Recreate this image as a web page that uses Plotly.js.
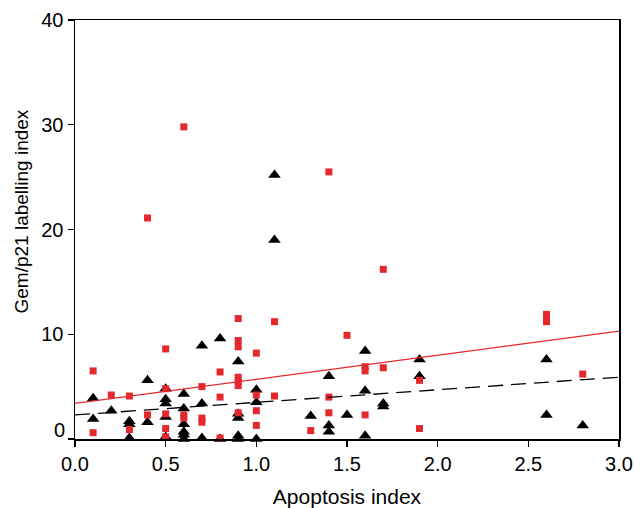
<!DOCTYPE html>
<html>
<head>
<meta charset="utf-8">
<script src="https://cdn.plot.ly/plotly-3.0.1.min.js"></script>
<style>html,body{margin:0;padding:0;background:#fff;}#chart{width:634px;height:508px;}</style>
</head>
<body>
<div id="chart"></div>
<script>
// Gem (red squares)
const gemX = [0.1,0.1,0.2,0.3,0.3,0.4,0.4,0.5,0.5,0.5,0.5,0.5,0.6,0.6,0.6,0.7,0.7,0.7,0.8,0.8,0.8,
  0.9,0.9,0.9,0.9,0.9,0.9,0.9,1.0,1.0,1.0,1.0,1.1,1.1,1.3,1.4,1.4,1.4,1.5,1.6,1.6,1.6,1.7,1.7,1.9,1.9,2.6,2.6,2.6,2.8];
const gemY = [6.5,0.6,4.2,4.1,0.9,2.3,21.1,8.6,4.8,2.4,1.0,0.2,2.3,2.0,29.8,5.0,2.0,1.6,6.4,4.0,0.1,
  11.5,9.4,8.8,5.9,5.5,5.1,2.5,8.2,4.2,2.7,1.3,11.2,4.1,0.8,25.5,4.0,2.5,9.9,6.9,6.5,2.3,6.8,16.2,5.6,1.0,11.9,11.5,11.2,6.2];
// p21 (black triangles)
const p21X = [0.1,0.1,0.2,0.3,0.3,0.3,0.4,0.4,0.5,0.5,0.5,0.5,0.5,0.6,0.6,0.6,0.6,0.6,0.6,0.7,0.7,0.7,0.8,0.8,
  0.9,0.9,0.9,0.9,0.9,1.0,1.0,1.0,1.1,1.1,1.3,1.4,1.4,1.4,1.5,1.6,1.6,1.6,1.7,1.7,1.9,1.9,2.6,2.6,2.8];
const p21Y = [3.9,1.9,2.7,1.7,1.4,0.1,5.6,1.6,4.8,3.8,3.4,2.1,0.2,4.3,2.9,1.4,0.7,0.4,0.0,8.9,3.4,0.1,9.6,0.0,
  7.4,2.4,2.0,0.3,0.0,4.7,3.5,0.0,25.2,19.0,2.2,6.0,1.3,0.7,2.3,8.4,4.6,0.3,3.4,3.1,7.6,6.0,7.6,2.3,1.3];
// regression lines (end points)
const fitX = [0, 3.0];
const gemFitY = [3.4, 10.3];
const p21FitY = [2.3, 5.9];
const yTickVals = [0, 10, 20, 30, 40];
const yTickText = ["", "10", "20", "30", "40"];
const xTickVals = [0, 0.5, 1.0, 1.5, 2.0, 2.5, 3.0];
const xTickText = ["0.0", "0.5", "1.0", "1.5", "2.0", "2.5", "3.0"];

const red = '#e3282e';
const font = 'Liberation Sans, Arial, Helvetica, sans-serif';

const traces = [
  {x: p21X, y: p21Y, type: 'scatter', mode: 'markers', cliponaxis: false,
   marker: {symbol: 'triangle-up', size: 11, color: '#000'}, hoverinfo: 'x+y'},
  {x: gemX, y: gemY, type: 'scatter', mode: 'markers', cliponaxis: false,
   marker: {symbol: 'square', size: 7, color: red}, hoverinfo: 'x+y'},
  {x: fitX, y: gemFitY, type: 'scatter', mode: 'lines', line: {color: red, width: 1.1}},
  {x: fitX, y: p21FitY, type: 'scatter', mode: 'lines', line: {color: '#000', width: 1.3, dash: '15px,8px'}}
];

const layout = {
  width: 634, height: 508,
  margin: {l: 75, r: 15, t: 20, b: 69},
  showlegend: false,
  paper_bgcolor: '#fff', plot_bgcolor: '#fff',
  font: {family: font, color: '#000', size: 20},
  xaxis: {
    range: [0, 3.0], tickvals: xTickVals, ticktext: xTickText,
    showgrid: false, zeroline: false, showline: true, linecolor: '#000', linewidth: 1.5,
    mirror: true, ticks: 'outside', ticklen: 6, tickwidth: 1.3, tickcolor: '#000',
    tickfont: {size: 20, family: font},
    title: {text: 'Apoptosis index', font: {size: 21, family: font}, standoff: 16}
  },
  yaxis: {
    range: [0, 40], tickvals: yTickVals, ticktext: yTickText,
    showgrid: false, zeroline: false, showline: true, linecolor: '#000', linewidth: 1.5,
    mirror: true, ticks: 'outside', ticklen: 6, tickwidth: 1.3, tickcolor: '#000',
    tickfont: {size: 20, family: font}
  },
  annotations: [
    {x: 0, y: 0, xref: 'paper', yref: 'y', text: '0', showarrow: false,
     xanchor: 'right', yanchor: 'middle', xshift: -8, yshift: 9, font: {size: 20, family: font}},
    {x: 0, y: 0.5, xref: 'paper', yref: 'paper', text: 'Gem/p21 labelling index', showarrow: false,
     textangle: -90, xanchor: 'center', yanchor: 'middle', xshift: -54, yshift: 18,
     font: {size: 19, family: font}}
  ]
};

Plotly.newPlot('chart', traces, layout, {displayModeBar: false, staticPlot: true});
</script>
</body>
</html>
